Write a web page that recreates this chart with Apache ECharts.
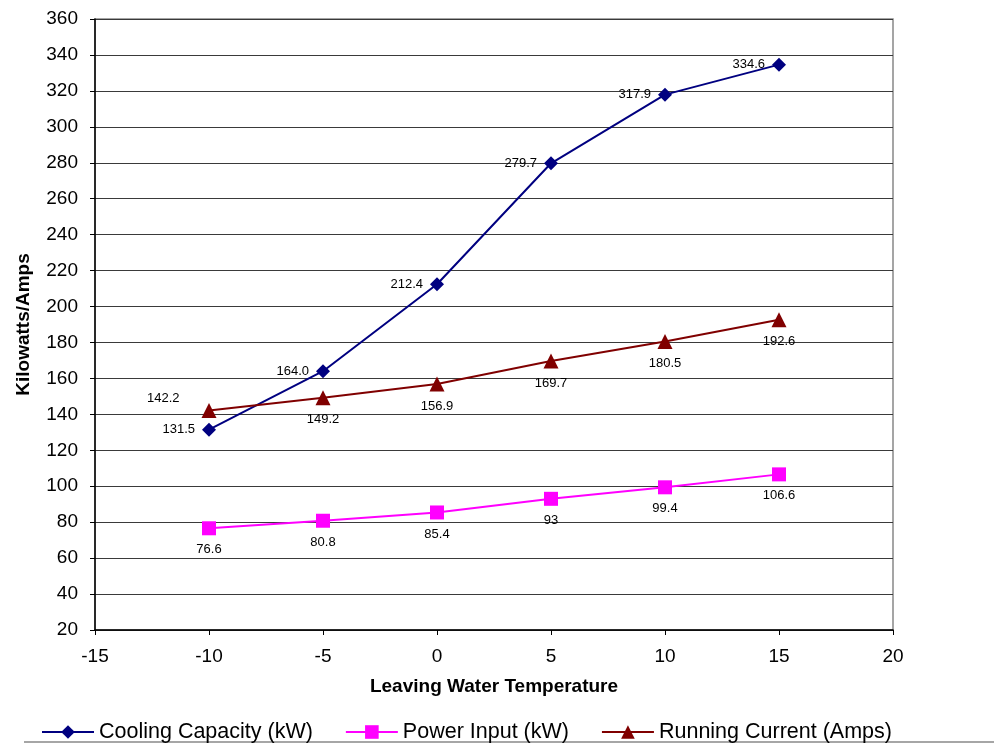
<!DOCTYPE html>
<html><head><meta charset="utf-8">
<script src="https://cdn.jsdelivr.net/npm/echarts@6/dist/echarts.min.js"></script>
<style>html,body{margin:0;padding:0;background:#fff}#c{width:994px;height:745px}</style>
</head><body><div id="c"></div>
<script>
const temps = [-10, -5, 0, 5, 10, 15];
const coolingCapacity = [131.5, 164.0, 212.4, 279.7, 317.9, 334.6];
const powerInput = [76.6, 80.8, 85.4, 93, 99.4, 106.6];
const runningCurrent = [142.2, 149.2, 156.9, 169.7, 180.5, 192.6];
const coolingLabels = ['131.5','164.0','212.4','279.7','317.9','334.6'];
const powerLabels = ['76.6','80.8','85.4','93','99.4','106.6'];
const currentLabels = ['142.2','149.2','156.9','169.7','180.5','192.6'];

const F = 'Liberation Sans, Arial, sans-serif';
const chart = echarts.init(document.getElementById('c'));
function pts(vals){ return temps.map((t,i)=>[t, vals[i]]); }
const lbl = {color:'#000', fontFamily:F, fontSize:13};

chart.setOption({
  animation:false,
  backgroundColor:'#fff',
  grid:{left:95, right:101, top:19, bottom:115, show:true, borderColor:'#888', borderWidth:1.5},
  xAxis:{type:'value', min:-15, max:20, interval:5,
    name:'Leaving Water Temperature', nameLocation:'middle', nameGap:47,
    nameTextStyle:{fontFamily:F, fontSize:19, fontWeight:'bold', color:'#000'},
    axisLine:{onZero:false, lineStyle:{color:'#000', width:1.5}},
    axisTick:{show:true, length:5, lineStyle:{color:'#000'}},
    axisLabel:{fontFamily:F, fontSize:19, color:'#000', margin:17},
    splitLine:{show:false}},
  yAxis:{type:'value', min:20, max:360, interval:20,
    name:'Kilowatts/Amps', nameLocation:'middle', nameGap:62,
    nameTextStyle:{fontFamily:F, fontSize:19, fontWeight:'bold', color:'#000'},
    axisLine:{onZero:false, lineStyle:{color:'#000', width:1.5}},
    axisTick:{show:true, length:5, lineStyle:{color:'#000'}},
    axisLabel:{fontFamily:F, fontSize:19, color:'#000', margin:17},
    splitLine:{show:true, lineStyle:{color:'#3a3a3a', width:1}}},
  legend:{top:716, left:36, itemWidth:52, itemHeight:17, itemGap:32,
    textStyle:{fontFamily:F, fontSize:21.5, color:'#000'},
    data:['Cooling Capacity (kW)','Power Input (kW)','Running Current (Amps)']},
  graphic:[{type:'line', shape:{x1:24,y1:742,x2:994,y2:742}, style:{stroke:'#888', lineWidth:1.5}}],
  series:[
    {name:'Cooling Capacity (kW)', type:'line', data:pts(coolingCapacity),
     symbol:'diamond', symbolSize:14, color:'#000080', lineStyle:{width:2, color:'#000080'},
     itemStyle:{color:'#000080'},
     label:Object.assign({show:true, position:'left', distance:7, formatter:p=>coolingLabels[p.dataIndex]}, lbl)},
    {name:'Power Input (kW)', type:'line', data:pts(powerInput),
     symbol:'rect', symbolSize:14, color:'#ff00ff', lineStyle:{width:2, color:'#ff00ff'},
     itemStyle:{color:'#ff00ff'},
     label:Object.assign({show:true, position:'bottom', distance:8, formatter:p=>powerLabels[p.dataIndex]}, lbl)},
    {name:'Running Current (Amps)', type:'line',
     data:pts(runningCurrent).map((d,i)=> i===0 ? {value:d, label:{position:'left', offset:[-14,-12]}} : {value:d}),
     symbol:'triangle', symbolSize:15, color:'#800000', lineStyle:{width:2, color:'#800000'},
     itemStyle:{color:'#800000'},
     label:Object.assign({show:true, position:'bottom', distance:8, formatter:p=>currentLabels[p.dataIndex]}, lbl)}
  ]
});
</script></body></html>
